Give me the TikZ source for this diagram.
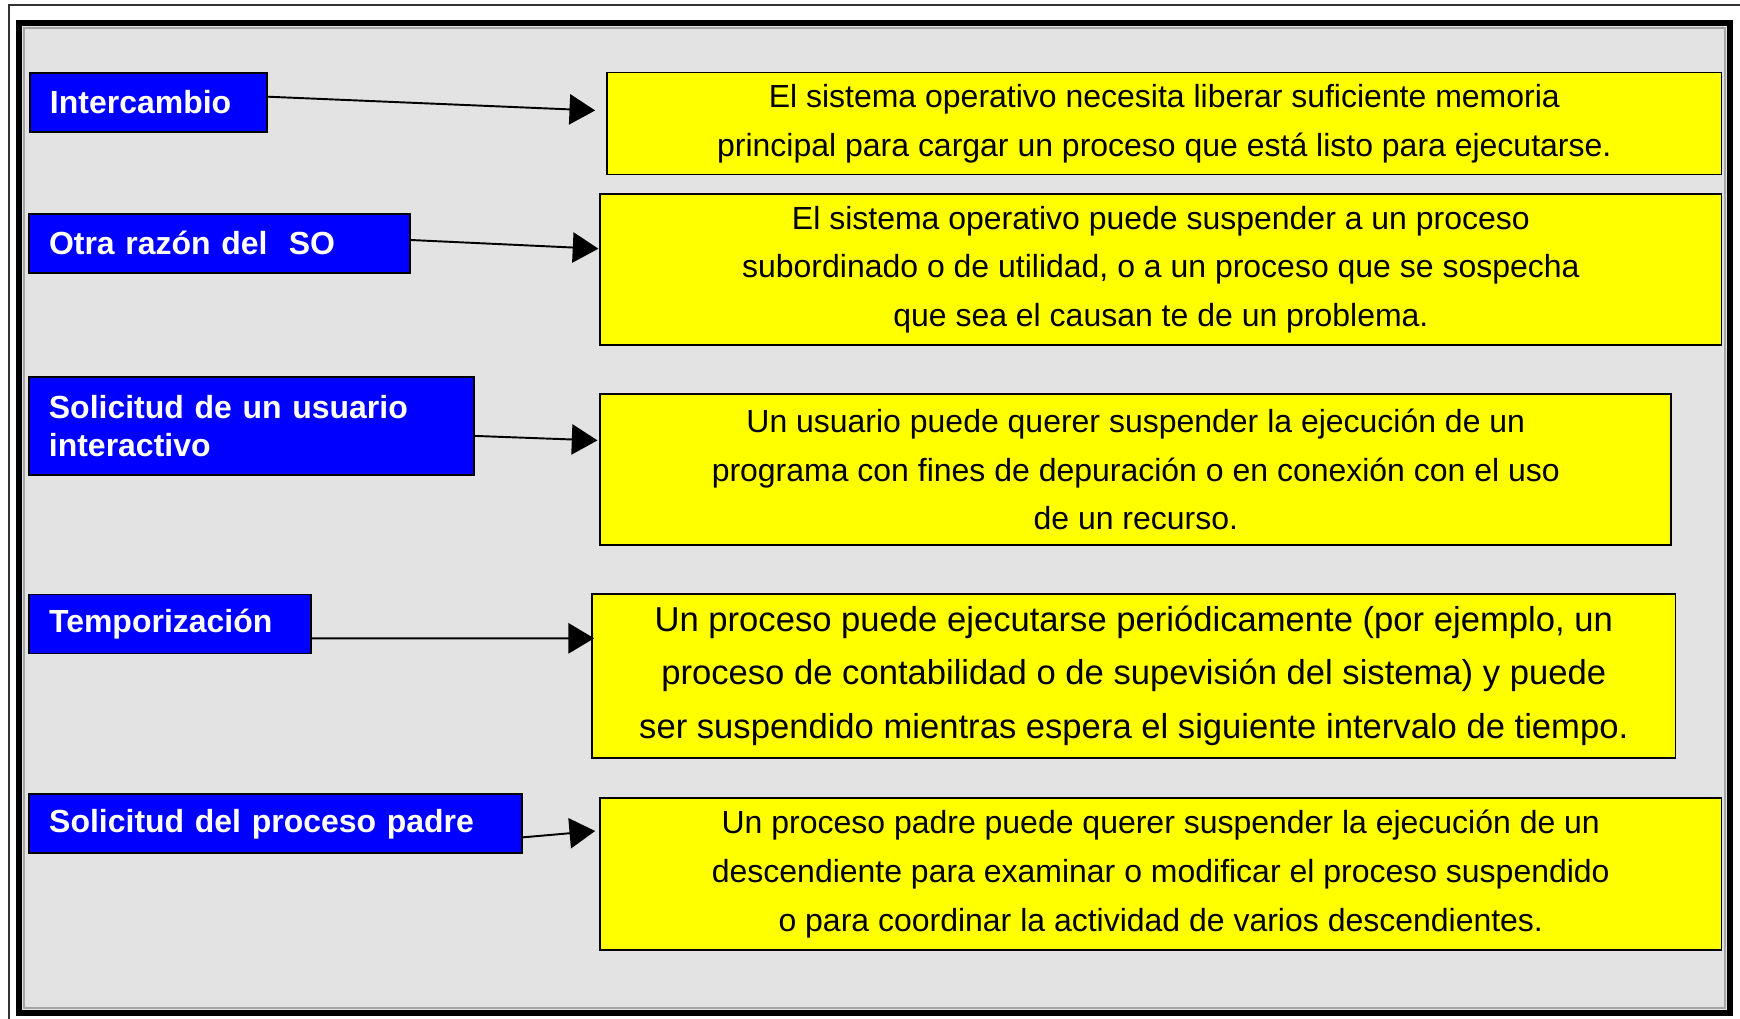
\documentclass[tikz,border=0pt]{standalone}
\usepackage{fontspec}
\setmainfont{Liberation Sans}
\usetikzlibrary{positioning,arrows.meta}
\definecolor{fondo}{RGB}{227,227,227}
\definecolor{azul}{RGB}{0,0,255}
\definecolor{amarillo}{RGB}{255,255,0}

\begin{document}
\begin{tikzpicture}
    [x=1cm,y=-1cm,
     motivo/.style={draw=black, line width=0.5pt, fill=azul, text=white, inner xsep=2mm, align=left, minimum height=0.59cm, font=\fontsize{9.1}{10.7}\selectfont\bfseries},
     razon/.style={draw=black, line width=0.5pt, fill=amarillo, align=center, font=\fontsize{9.1}{13.9}\selectfont},
     flecha/.style={-{Triangle[length=7.3pt,width=8.6pt]}, line width=0.55pt}]
  \useasboundingbox (0,0) rectangle (17.40,10.18);
  \clip (0,0) rectangle (17.40,10.18);

  \draw[line width=0.6pt, black!80] (0.09,10.4) -- (0.09,0.05) -- (17.6,0.05);
  \fill[fondo] (0.19,0.23) rectangle (17.30,10.13);
  \draw[gray!70, line width=0.6pt] (0.24,0.28) rectangle (17.25,10.08);
  \draw[line width=1.5pt] (0.19,0.23) rectangle (17.30,10.13);

  \node[motivo, text width=1.97cm] (m1) at (1.485,1.024) {Intercambio};
  \node[motivo, text width=3.41cm] (m2) at (2.195,2.434) {Otra razón del~ SO};
  \node[motivo, text width=4.05cm, minimum height=0.98cm] (m3) at (2.514,4.259) {Solicitud de un usuario\\interactivo};
  \node[motivo, text width=2.42cm] (m4) at (1.701,6.239) {Temporización};
  \node[motivo, text width=4.53cm] (m5) at (2.757,8.238) {Solicitud del proceso padre};

  \node[razon, minimum width=11.145cm, minimum height=1.015cm] (d1) at (11.643,1.2345)
    {El sistema operativo necesita liberar suficiente memoria\\principal para cargar un proceso que está listo para ejecutarse.};
  \node[razon, minimum width=11.212cm, minimum height=1.508cm] (d2) at (11.609,2.697)
    {El sistema operativo puede suspender a un proceso\\subordinado o de utilidad, o a un proceso que se sospecha\\que sea el causan te de un problema.};
  \node[razon, minimum width=10.709cm, minimum height=1.51cm] (d3) at (11.358,4.694)
    {Un usuario puede querer suspender la ejecución de un\\programa con fines de depuración o en conexión con el uso\\de un recurso.};
  \node[razon, minimum width=10.836cm, minimum height=1.617cm, font=\fontsize{9.85}{15.3}\selectfont] (d4) at (11.338,6.758)
    {Un proceso puede ejecutarse periódicamente (por ejemplo, un\\proceso de contabilidad o de supevisión del sistema) y puede\\ser suspendido mientras espera el siguiente intervalo de tiempo.};
  \node[razon, minimum width=11.215cm, minimum height=1.517cm] (d5) at (11.608,8.74)
    {Un proceso padre puede querer suspender la ejecución de un\\descendiente para examinar o modificar el proceso suspendido\\o para coordinar la actividad de varios descendientes.};

  \foreach \from/\to/\a/\b/\c in {m1/d1/0.57/-1.1/1.3, m2/d2/0.34/-0.1/2.1, m3/d3/-1.0/-0.2/2.9, m4/d4/-1.44/0.3/3.75, m5/d5/-1.35/-0.4/4.3}
    \draw[flecha] ([yshift=\a mm]\from.east) -- ([xshift=\b mm, yshift=\c mm]\to.west);
\end{tikzpicture}
\end{document}
